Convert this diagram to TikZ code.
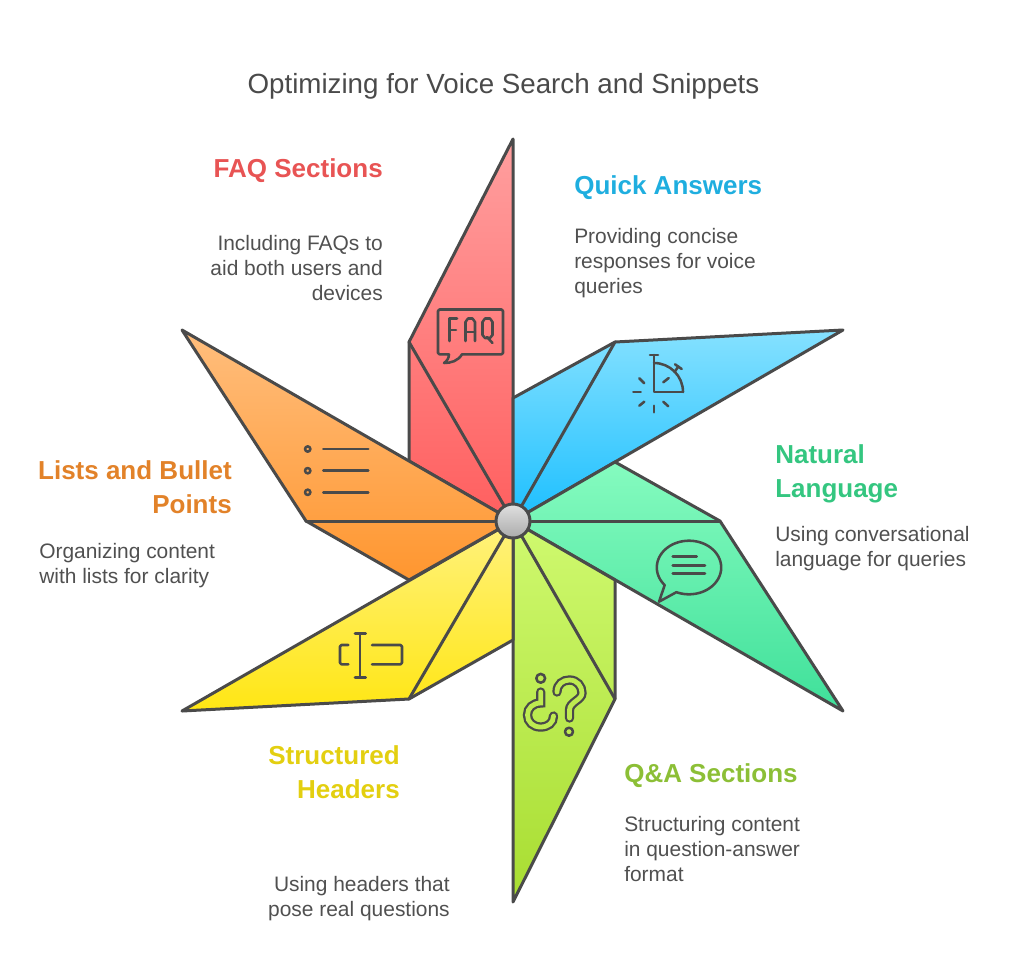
\documentclass[tikz,border=0pt]{standalone}
\usepackage{fontspec}
\setmainfont{Liberation Sans}
\definecolor{ink}{HTML}{4A4A4A}
\definecolor{bodytxt}{HTML}{505050}
\definecolor{faqtop}{HTML}{FF9F9F}
\definecolor{faqbot}{HTML}{FF5F5F}
\definecolor{faqtxt}{HTML}{E85454}
\definecolor{qcktop}{HTML}{85E1FF}
\definecolor{qckbot}{HTML}{1CBFFF}
\definecolor{qcktxt}{HTML}{1FAEDF}
\definecolor{nattop}{HTML}{85FBBF}
\definecolor{natbot}{HTML}{3FE09A}
\definecolor{nattxt}{HTML}{34C680}
\definecolor{qnatop}{HTML}{CFF96F}
\definecolor{qnabot}{HTML}{A8DD31}
\definecolor{qnatxt}{HTML}{8CBF36}
\definecolor{qnamid}{HTML}{BEEB50}
\definecolor{hdrtop}{HTML}{FFF27E}
\definecolor{hdrbot}{HTML}{FFE614}
\definecolor{hdrtxt}{HTML}{E3CF10}
\definecolor{lsttop}{HTML}{FFBE7D}
\definecolor{lstbot}{HTML}{FF962F}
\definecolor{lsttxt}{HTML}{E28229}
\definecolor{hubtop}{HTML}{E0E0E0}
\definecolor{hubbot}{HTML}{ABABAB}
\tikzset{
  petal/.style 2 args={draw=ink, line width=2.25pt, line join=round, top color=#1, bottom color=#2},
  ray/.style={draw=ink, line width=2.25pt, line cap=round},
  icon/.style={draw=ink, line width=1.9pt, line cap=round, line join=round},
  tube/.style={draw=ink, line width=1.7pt, line cap=round, double=qnamid, double distance=3.6pt},
  ttl/.style={font=\fontsize{20.8}{24}\selectfont, text=ink, inner sep=0pt, anchor=base},
  headl/.style={font=\fontsize{19.5}{25.5}\bfseries\selectfont, inner sep=0pt, align=left, anchor=base west},
  headr/.style={font=\fontsize{19.5}{25.5}\bfseries\selectfont, inner sep=0pt, align=right, anchor=base east},
  txtl/.style={font=\fontsize{15.7}{18.75}\selectfont, text=bodytxt, inner sep=0pt, align=left, anchor=base west},
  txtr/.style={font=\fontsize{15.7}{18.75}\selectfont, text=bodytxt, inner sep=0pt, align=right, anchor=base east},
}
\begin{document}
\begin{tikzpicture}[x=.75pt,y=-.75pt]
\useasboundingbox (0,0) rectangle (1024,975);
\coordinate (hub0) at (513,521);
\coordinate (faq0) at (513,139);
\coordinate (faq1) at (409,342);
\coordinate (faq2) at (409,461);
\coordinate (qck0) at (513,398);
\coordinate (qck1) at (615,342);
\coordinate (qck2) at (843,330);
\coordinate (nat0) at (615,462);
\coordinate (nat1) at (720,521);
\coordinate (nat2) at (843,711);
\coordinate (qna0) at (615,580);
\coordinate (qna1) at (615,699);
\coordinate (qna2) at (513,902);
\coordinate (hdr0) at (513,640);
\coordinate (hdr1) at (409,699);
\coordinate (hdr2) at (182,711);
\coordinate (lst0) at (409,580);
\coordinate (lst1) at (306,521);
\coordinate (lst2) at (182,330);
\path[petal={faqtop}{faqbot}] (hub0) -- (faq0) -- (faq1) -- (faq2) -- cycle;
\path[petal={qcktop}{qckbot}] (hub0) -- (qck0) -- (qck1) -- (qck2) -- cycle;
\path[petal={nattop}{natbot}] (hub0) -- (nat0) -- (nat1) -- (nat2) -- cycle;
\path[petal={qnatop}{qnabot}] (hub0) -- (qna0) -- (qna1) -- (qna2) -- cycle;
\path[petal={hdrtop}{hdrbot}] (hub0) -- (hdr0) -- (hdr1) -- (hdr2) -- cycle;
\path[petal={lsttop}{lstbot}] (hub0) -- (lst0) -- (lst1) -- (lst2) -- cycle;
\node[circle, minimum size=25.5pt, inner sep=0pt, draw=ink, line width=2.25pt, top color=hubtop, bottom color=hubbot] (hub) at (hub0){};
\draw[ray](hub) -- (faq1);
\draw[ray](hub) -- (qck1);
\draw[ray](hub) -- (nat1);
\draw[ray](hub) -- (qna1);
\draw[ray](hub) -- (hdr1);
\draw[ray](hub) -- (lst1);
% faq icon
\draw[icon] (449,354.3) -- (439.5,354.3) -- (438,353) -- (438,311) -- (439.5,309.5) -- (501.5,309.5) -- (503,311) -- (503,353) -- (501.5,354.3) -- (462,354.3) .. controls (458,361) and (451,363) .. (444,363) .. controls (447,361) and (449,358) .. (449,354.3);
\draw[icon] (457,318.5) -- (449.5,318.5) -- (449.5,341);
\draw[icon] (449.5,330) -- (456,330);
\draw[icon] (465.5,341) -- (465.5,322) -- (468,318.5) -- (472.5,318.5) -- (475,322) -- (475,341);
\draw[icon] (465.5,332) -- (475,332);
\draw[icon] (482.5,322) -- (485,318.5) -- (490,318.5) -- (492.5,322) -- (492.5,335) -- (490,338) -- (485,338) -- (482.5,335) -- cycle;
\draw[icon] (487,337) -- (492.5,343);
% clock icon
\draw[icon] (650,355) -- (658,355);
\draw[icon] (654,355) -- (654,392) -- (683,392);
\draw[icon] (654,363) .. controls (670,363) and (683,376) .. (683,392);
\draw[icon] (675,364.3) -- (681.7,369);
\draw[icon] (678.3,366.6) -- (674.5,372);
\draw[icon] (663.3,382.3) -- (668.7,378);
\draw[icon] (639.3,378.3) -- (644.3,383.3);
\draw[icon] (633.3,392) -- (640.7,392);
\draw[icon] (639.3,405.7) -- (644.3,401.7);
\draw[icon] (654,405.7) -- (654,412.3);
\draw[icon] (663.3,401.7) -- (668.3,406.3);
% speech icon
\draw[icon] plot[domain=113:-221, samples=70] ({689+32.2*cos(\x)},{567.5+26.8*sin(\x)}) -- (659,601.7) -- cycle;
\draw[icon] (672.7,556.7) -- (696.7,556.7);
\draw[icon] (672.7,565.3) -- (705,565.3);
\draw[icon] (672.7,573.7) -- (705,573.7);
% question icon
\draw[tube] (540.7,692) -- (540.7,703) .. controls (533,703) and (527.5,708) .. (527.5,715) .. controls (527.5,722) and (533,727) .. (540.5,727) .. controls (548,727) and (553.5,723) .. (553.5,716);
\draw[tube] (557,692) .. controls (557,684) and (563,680) .. (569.5,680) .. controls (577,680) and (582,686) .. (582,693) .. controls (582,700) and (569.5,702) .. (569.5,710) -- (569.5,718);
\draw[icon, fill=qnamid] (540.7,678.3) circle[radius=3.3pt];
\draw[icon, fill=qnamid] (569,731.7) circle[radius=3pt];
% cursor icon
\draw[icon] (348.3,645) -- (341.5,645) -- (340,646.5) -- (340,662.8) -- (341.5,664.3) -- (348.3,664.3);
\draw[icon] (355,633.3) -- (365.7,633.3);
\draw[icon] (355,677.3) -- (365.7,677.3);
\draw[icon] (360,633.3) -- (360,677.3);
\draw[icon] (372,645) -- (400.5,645) -- (402,646.5) -- (402,662.8) -- (400.5,664.3) -- (372,664.3);
% list icon
\draw[icon] (307.7,449) circle[radius=2pt];
\draw[icon] (307.7,470.7) circle[radius=2pt];
\draw[icon] (307.7,492.3) circle[radius=2pt];
\draw[icon] (323.3,449) -- (368.3,449);
\draw[icon] (323.3,470.7) -- (368.3,470.7);
\draw[icon] (323.3,492.3) -- (368.3,492.3);
% labels
\node[ttl] (title) at (503.5,93){Optimizing for Voice Search and Snippets};
\node[headr, text=faqtxt] (faqh) at (383,177){FAQ Sections};
\node[txtr] (faqt) at (383,300){Including FAQs to\\aid both users and\\devices};
\node[headl, text=qcktxt] (qckh) at (574,194){Quick Answers};
\node[txtl] (qckt) at (574,293){Providing concise\\responses for voice\\queries};
\node[headl, text=nattxt] (nath) at (775,497){Natural\\Language};
\node[txtl] (natt) at (775,566){Using conversational\\language for queries};
\node[headl, text=qnatxt] (qnah) at (624,782){Q\&A Sections};
\node[txtl] (qnat) at (624,881){Structuring content\\in question-answer\\format};
\node[headr, text=hdrtxt] (hdrh) at (400,798){Structured\\Headers};
\node[txtr] (hdrt) at (450,916){Using headers that\\pose real questions};
\node[headr, text=lsttxt] (lsth) at (232,513){Lists and Bullet\\Points};
\node[txtl] (lstt) at (39,583){Organizing content\\with lists for clarity};
\end{tikzpicture}
\end{document}
